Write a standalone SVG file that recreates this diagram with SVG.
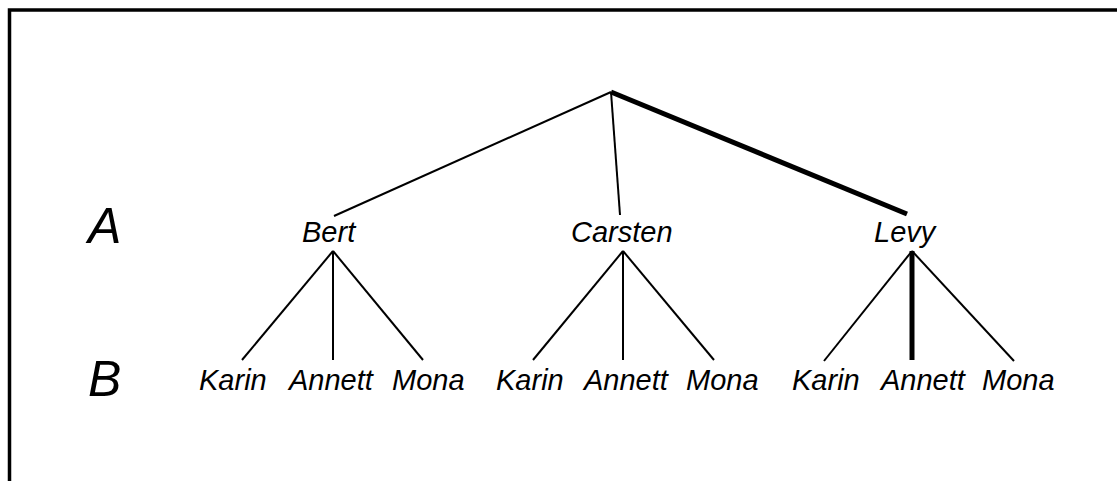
<svg xmlns="http://www.w3.org/2000/svg" width="1117" height="481" viewBox="0 0 1117 481">
<style>
text{font-family:"Liberation Sans",Arial,sans-serif;font-style:italic;fill:#000}
.n{font-size:29px}
.lvl{font-size:50px}
.e{stroke:#000;stroke-width:2;fill:none}
.b{stroke:#000;stroke-width:5;fill:none}
</style>
<rect width="1117" height="481" fill="#fff"/>
<path d="M9.5 490 V10 H1130" stroke="#000" stroke-width="3.5" fill="none"/>
<g id="labels">
<text class="lvl" x="88" y="243">A</text>
<text class="lvl" x="88" y="396">B</text>
</g>
<g id="connectors">
<line class="e" x1="611" y1="92" x2="334" y2="216"/>
<line class="e" x1="611" y1="92" x2="620" y2="215"/>
<line class="b" x1="611" y1="92" x2="907" y2="214"/>
<line class="e" x1="333" y1="251" x2="242" y2="360"/>
<line class="e" x1="333" y1="251" x2="333" y2="360"/>
<line class="e" x1="333" y1="251" x2="423" y2="360"/>
<line class="e" x1="623" y1="251" x2="533" y2="360"/>
<line class="e" x1="623" y1="251" x2="623" y2="360"/>
<line class="e" x1="623" y1="251" x2="714" y2="360"/>
<line class="e" x1="912" y1="251" x2="824" y2="361"/>
<line class="b" x1="912" y1="251" x2="912" y2="360"/>
<line class="e" x1="912" y1="251" x2="1014" y2="361"/>
</g>
<g id="bert"><text class="n" x="302" y="242">Bert</text></g>
<g id="carsten"><text class="n" x="571" y="242">Carsten</text></g>
<g id="levy"><text class="n" x="874" y="242">Levy</text></g>
<g id="bert-karin"><text class="n" x="199" y="390">Karin</text></g>
<g id="bert-annett"><text class="n" x="289" y="390">Annett</text></g>
<g id="bert-mona"><text class="n" x="392" y="390">Mona</text></g>
<g id="carsten-karin"><text class="n" x="496" y="390">Karin</text></g>
<g id="carsten-annett"><text class="n" x="584" y="390">Annett</text></g>
<g id="carsten-mona"><text class="n" x="686" y="390">Mona</text></g>
<g id="levy-karin"><text class="n" x="792" y="390">Karin</text></g>
<g id="levy-annett"><text class="n" x="881" y="390">Annett</text></g>
<g id="levy-mona"><text class="n" x="982" y="390">Mona</text></g>
</svg>
